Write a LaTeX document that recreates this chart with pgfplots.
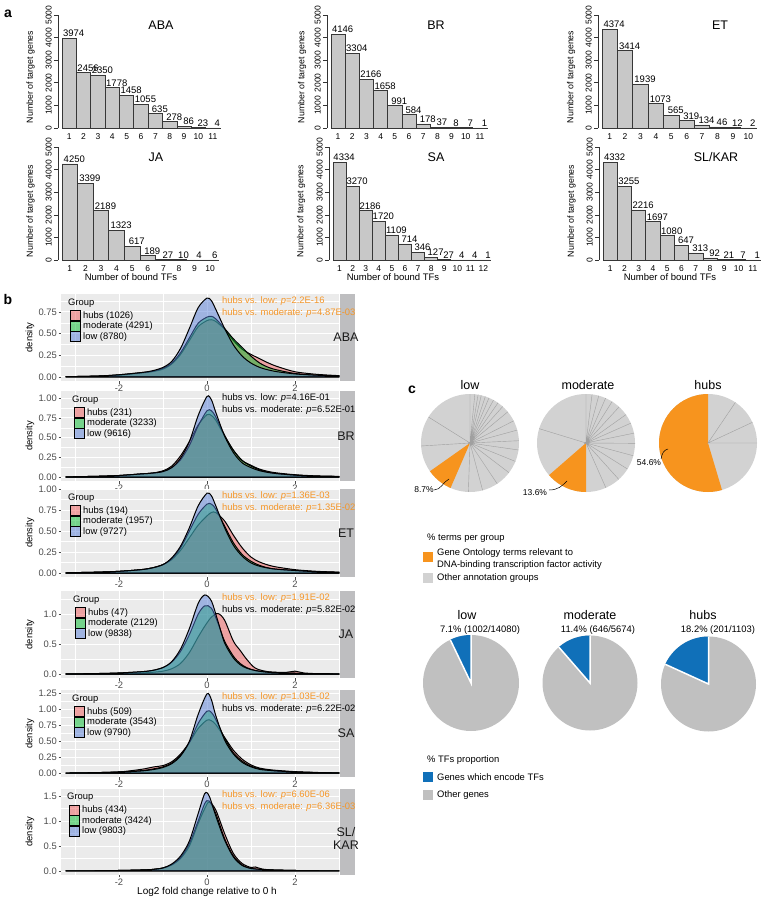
\documentclass[border=0pt]{standalone}
\usepackage{fontspec}
\setmainfont{Liberation Sans}
\usepackage{pgfplots}
\pgfplotsset{compat=1.18}
\usepackage{pgfplotstable}

\newcommand{\fs}[1]{\fontsize{#1}{#1}\selectfont}

\definecolor{barfill}{RGB}{200,200,200}
\definecolor{bardraw}{RGB}{55,55,55}
\definecolor{panelbg}{RGB}{235,235,235}
\definecolor{stripbg}{RGB}{190,190,192}
\definecolor{hubc}{RGB}{238,88,88}
\definecolor{modc}{RGB}{0,188,45}
\definecolor{lowc}{RGB}{85,125,215}
\definecolor{porange}{RGB}{245,150,40}
\definecolor{pieorange}{RGB}{247,148,30}
\definecolor{piegray}{RGB}{210,210,210}
\definecolor{pieline}{RGB}{160,160,160}
\definecolor{piegray2}{RGB}{192,192,192}
\definecolor{pieblue}{RGB}{16,112,185}
\definecolor{ticklab}{RGB}{77,77,77}

\pgfplotsset{
 every axis/.append style={/pgf/number format/assume math mode=true, /pgf/number format/1000 sep={}},
 barax/.style={
   scale only axis, anchor=north west, height=113pt, enlargelimits=false,
   ymin=0, ymax=5000, ytick={0,1000,2000,3000,4000,5000},
   axis x line*=bottom, axis y line*=left, axis y line shift=4pt,
   axis line style={line width=0.6pt, color=black!80},
   xtick style={draw=none}, ytick style={line width=0.6pt, color=black!80},
   tick align=outside, major tick length=4pt,
   xticklabel style={font=\fs{8.5}, inner sep=1.5pt},
   yticklabel style={font=\fs{8.5}, rotate=90, anchor=south, inner sep=2pt},
   clip=false,
 },
 bars/.style={ybar, bar width=1, fill=barfill, draw=bardraw, line width=0.7pt,
   nodes near coords, every node near coord/.append style={font=\fs{9.5}, inner sep=1pt, xshift=4.5pt, text=black}},
 densax/.style={
   scale only axis, anchor=north west, width=279pt, xmin=-3.318, xmax=3.023,
   axis background/.style={fill=panelbg},
   axis line style={draw=none},
   xtick={-2,0,2}, xticklabels={-2,0,2}, minor xtick={-3,-1,1,3},
   grid=both, major grid style={white, line width=0.9pt}, minor grid style={white, line width=0.45pt},
   tick pos=left, tick align=outside, major tick length=2.5pt, minor tick length=0pt,
   tick style={color=black!70, line width=0.5pt},
   tick label style={font=\fs{9.4}, text=ticklab},
   xticklabel style={inner sep=1.5pt}, yticklabel style={inner sep=1.5pt},
 },
 dh/.style={fill=hubc, fill opacity=0.5, draw=black, line width=1pt, smooth},
 dm/.style={fill=modc, fill opacity=0.5, draw=black, line width=1pt, smooth},
 dl/.style={fill=lowc, fill opacity=0.5, draw=black, line width=1pt, smooth},
 pieax/.style={scale only axis, hide axis, anchor=center, width=98pt, height=98pt,
   xmin=-1, xmax=1, ymin=-1, ymax=1, clip=false},
}

\pgfplotstableread{
x h m l
-3.2 0.003 0.003 0.003
-2.5 0.01 0.01 0.01
-2.0 0.02 0.025 0.025
-1.5 0.045 0.05 0.05
-1.25 0.06 0.065 0.07
-1.0 0.09 0.10 0.11
-0.8 0.15 0.16 0.18
-0.6 0.26 0.28 0.33
-0.4 0.42 0.45 0.56
-0.2 0.58 0.62 0.80
0.0 0.65 0.69 0.91
0.1 0.66 0.70 0.88
0.2 0.64 0.67 0.78
0.4 0.55 0.56 0.56
0.6 0.42 0.44 0.37
0.8 0.32 0.34 0.24
1.0 0.26 0.24 0.16
1.2 0.21 0.16 0.11
1.4 0.16 0.11 0.08
1.6 0.12 0.08 0.06
2.0 0.06 0.04 0.035
2.5 0.03 0.02 0.02
3.0 0.015 0.012 0.012
}\dABA
\pgfplotstableread{
x h m l
-3.2 0.003 0.003 0.003
-2.5 0.01 0.01 0.01
-2.0 0.02 0.02 0.02
-1.5 0.04 0.04 0.04
-1.25 0.05 0.05 0.05
-1.0 0.08 0.07 0.07
-0.8 0.14 0.12 0.12
-0.6 0.27 0.22 0.24
-0.4 0.45 0.40 0.45
-0.2 0.66 0.65 0.78
0.0 0.79 0.84 1.02
0.1 0.78 0.84 0.98
0.2 0.72 0.76 0.82
0.4 0.52 0.53 0.52
0.6 0.34 0.34 0.31
0.8 0.21 0.21 0.18
1.0 0.15 0.14 0.12
1.2 0.10 0.09 0.08
1.5 0.06 0.05 0.05
2.0 0.03 0.025 0.025
2.5 0.015 0.012 0.012
3.0 0.01 0.006 0.006
}\dBR
\pgfplotstableread{
x h m l
-3.2 0.003 0.003 0.003
-2.5 0.01 0.01 0.01
-2.0 0.02 0.02 0.02
-1.5 0.04 0.04 0.04
-1.25 0.06 0.06 0.06
-1.0 0.10 0.10 0.10
-0.8 0.16 0.17 0.18
-0.6 0.27 0.30 0.32
-0.4 0.42 0.50 0.54
-0.2 0.57 0.70 0.80
0.0 0.68 0.82 0.95
0.1 0.72 0.82 0.92
0.2 0.72 0.76 0.80
0.4 0.62 0.56 0.54
0.6 0.45 0.36 0.33
0.8 0.30 0.22 0.20
1.0 0.19 0.14 0.12
1.2 0.13 0.09 0.08
1.5 0.08 0.05 0.05
2.0 0.04 0.03 0.03
2.5 0.02 0.015 0.015
3.0 0.01 0.008 0.008
}\dET
\pgfplotstableread{
x h m l
-3.2 0.003 0.003 0.003
-2.5 0.005 0.01 0.01
-2.0 0.01 0.02 0.02
-1.5 0.02 0.04 0.04
-1.25 0.03 0.06 0.06
-1.0 0.05 0.11 0.11
-0.8 0.09 0.20 0.21
-0.6 0.18 0.38 0.42
-0.4 0.36 0.66 0.76
-0.2 0.62 1.00 1.18
-0.05 0.80 1.14 1.32
0.1 0.95 1.10 1.22
0.25 1.01 0.85 0.88
0.4 0.90 0.55 0.52
0.6 0.55 0.30 0.27
0.75 0.40 0.18 0.16
0.9 0.25 0.11 0.10
1.1 0.10 0.06 0.06
1.4 0.04 0.035 0.03
1.8 0.03 0.02 0.02
2.0 0.05 0.015 0.015
2.2 0.02 0.01 0.01
2.6 0.005 0.008 0.008
3.0 0.002 0.005 0.005
}\dJA
\pgfplotstableread{
x h m l
-3.2 0.003 0.003 0.003
-2.5 0.01 0.01 0.01
-2.0 0.02 0.02 0.02
-1.5 0.06 0.04 0.035
-1.2 0.10 0.07 0.06
-1.0 0.12 0.10 0.09
-0.8 0.18 0.16 0.15
-0.6 0.30 0.28 0.27
-0.4 0.48 0.48 0.50
-0.2 0.70 0.78 0.92
0.0 0.83 0.97 1.24
0.1 0.82 0.95 1.15
0.2 0.76 0.84 0.90
0.4 0.56 0.55 0.52
0.6 0.36 0.32 0.30
0.8 0.22 0.19 0.17
1.0 0.13 0.11 0.10
1.2 0.08 0.07 0.06
1.5 0.05 0.04 0.04
2.0 0.025 0.02 0.02
2.5 0.012 0.01 0.01
3.0 0.006 0.005 0.005
}\dSA
\pgfplotstableread{
x h m l
-3.2 0.002 0.002 0.002
-2.5 0.005 0.005 0.005
-2.0 0.01 0.01 0.01
-1.5 0.02 0.02 0.02
-1.25 0.03 0.03 0.03
-1.0 0.06 0.06 0.06
-0.8 0.12 0.13 0.14
-0.6 0.25 0.27 0.30
-0.4 0.50 0.55 0.60
-0.2 0.95 1.00 1.15
-0.05 1.25 1.35 1.55
0.05 1.38 1.40 1.50
0.2 1.22 1.15 1.10
0.4 0.75 0.65 0.62
0.6 0.35 0.30 0.28
0.8 0.15 0.12 0.11
1.0 0.07 0.05 0.05
1.1 0.08 0.04 0.04
1.25 0.04 0.03 0.03
1.5 0.02 0.02 0.02
2.0 0.01 0.01 0.01
2.5 0.005 0.005 0.005
3.0 0.002 0.003 0.003
}\dSL

\pgfplotstableread{
a r
0 1
5 1
10 1
15 1
20 1
25 1
30 1
35 1
40 1
45 1
50 1
55 1
60 1
65 1
70 1
75 1
80 1
85 1
90 1
95 1
100 1
105 1
110 1
115 1
120 1
125 1
130 1
135 1
140 1
145 1
150 1
155 1
160 1
165 1
170 1
175 1
180 1
185 1
190 1
195 1
200 1
205 1
210 1
215 1
220 1
225 1
230 1
235 1
240 1
245 1
250 1
255 1
260 1
265 1
270 1
275 1
280 1
285 1
290 1
295 1
300 1
305 1
310 1
315 1
320 1
325 1
330 1
335 1
340 1
345 1
350 1
355 1
360 1
}\circletab

\newcommand{\densleg}[5]{%
 \node[anchor=west, font=\fs{9.4}, inner sep=0pt] at ({#1pt-1pt},{-(#2pt+8.7pt)}) {Group};
 \draw[line width=1pt, fill=hubc, fill opacity=0.5] ({#1pt+1pt},{-(#2pt+16.7pt)}) rectangle ++(10pt,-10pt);
 \draw[line width=1pt, fill=modc, fill opacity=0.5] ({#1pt+1pt},{-(#2pt+27.2pt)}) rectangle ++(10pt,-10pt);
 \draw[line width=1pt, fill=lowc, fill opacity=0.5] ({#1pt+1pt},{-(#2pt+37.7pt)}) rectangle ++(10pt,-10pt);
 \node[anchor=west, font=\fs{9.4}, inner sep=0pt] at ({#1pt+14pt},{-(#2pt+21.7pt)}) {#3};
 \node[anchor=west, font=\fs{9.4}, inner sep=0pt] at ({#1pt+14pt},{-(#2pt+32.2pt)}) {#4};
 \node[anchor=west, font=\fs{9.4}, inner sep=0pt] at ({#1pt+14pt},{-(#2pt+42.7pt)}) {#5};
}
\newcommand{\pval}[5]{%
 \node[anchor=west, text=#2, font=\fs{9.4}, inner sep=0pt] at (222pt,{-(#1pt+7pt)}) {hubs vs. low: \textit{p}=#3};
 \node[anchor=west, text=#4, font=\fs{9.4}, inner sep=0pt] at (222pt,{-(#1pt+19pt)}) {hubs vs. moderate: \textit{p}=#5};
}
\newcommand{\strip}[4]{%
 \fill[stripbg] (340pt,{-#1pt}) rectangle (355pt,{-#2pt});
 \node[font=\fs{12.5}, align=center, inner sep=0pt, text=black!90] at (346pt,{-(#1pt+#2pt)/2-#4pt}) {#3};
 \node[rotate=90, font=\fs{9.4}] at (30pt,{-(#1pt+#2pt)/2}) {density};
}

\begin{document}
\begin{tikzpicture}
\path[use as bounding box] (0pt,0pt) rectangle (762pt,-899pt);

% ---------------- panel a ----------------
\node[font=\bfseries\fs{14}] at (8pt,-14pt) {a};
\begin{axis}[barax, at={(62pt,-15pt)}, width=158pt, xmin=0.5, xmax=11.5, xtick={1,...,11}]
\addplot[bars] coordinates {(1,3974)(2,2456)(3,2350)(4,1778)(5,1458)(6,1055)(7,635)(8,278)(9,86)(10,23)(11,4)};
\end{axis}
\begin{axis}[barax, at={(331pt,-15pt)}, width=156pt, xmin=0.5, xmax=11.5, xtick={1,...,11}]
\addplot[bars] coordinates {(1,4146)(2,3304)(3,2166)(4,1658)(5,991)(6,584)(7,178)(8,37)(9,8)(10,7)(11,1)};
\end{axis}
\begin{axis}[barax, at={(602pt,-15pt)}, width=154pt, xmin=0.5, xmax=10.5, xtick={1,...,10}]
\addplot[bars] coordinates {(1,4374)(2,3414)(3,1939)(4,1073)(5,565)(6,319)(7,134)(8,46)(9,12)(10,2)};
\end{axis}
\begin{axis}[barax, at={(62pt,-147pt)}, width=156pt, xmin=0.5, xmax=10.5, xtick={1,...,10}]
\addplot[bars] coordinates {(1,4250)(2,3399)(3,2189)(4,1323)(5,617)(6,189)(7,27)(8,10)(9,4)(10,6)};
\end{axis}
\begin{axis}[barax, at={(333pt,-147pt)}, width=157pt, xmin=0.5, xmax=12.5, xtick={1,...,12}]
\addplot[bars] coordinates {(1,4334)(2,3270)(3,2186)(4,1720)(5,1109)(6,714)(7,346)(8,127)(9,27)(10,4)(11,4)(12,1)};
\end{axis}
\begin{axis}[barax, at={(603pt,-147pt)}, width=157pt, xmin=0.5, xmax=11.5, xtick={1,...,11}]
\addplot[bars] coordinates {(1,4332)(2,3255)(3,2216)(4,1697)(5,1080)(6,647)(7,313)(8,92)(9,21)(10,7)(11,1)};
\end{axis}
\foreach \x/\y/\t in {161/25/ABA, 436/25/BR, 720/25/ET, 156/157/JA, 436/157/SA, 716/157/SL\slash KAR}
  \node[font=\fs{12.5}] at (\x pt,-\y pt) {\t};
\foreach \x/\y in {30.5/77, 302/77, 571/77, 30.5/211, 301/211, 571.5/211}
  \node[rotate=90, font=\fs{8.8}] at (\x pt,-\y pt) {Number of target genes};
\foreach \x in {131, 393, 670}
  \node[font=\fs{9.5}] at (\x pt,-277pt) {Number of bound TFs};

% ---------------- panel b ----------------
\node[font=\bfseries\fs{14}] at (8pt,-299pt) {b};
\begin{axis}[densax, at={(61pt,-294pt)}, height=87.1pt, ymin=-0.048, ymax=0.957,
  ytick={0,0.25,0.5,0.75}, minor ytick={0.125,0.375,0.625,0.875},
  yticklabel style={/pgf/number format/.cd, fixed, fixed zerofill, precision=2}]
\addplot[dh] table[x=x,y=h]{\dABA} \closedcycle;
\addplot[dm] table[x=x,y=m]{\dABA} \closedcycle;
\addplot[dl] table[x=x,y=l]{\dABA} \closedcycle;
\end{axis}
\begin{axis}[densax, at={(61pt,-391pt)}, height=90.2pt, ymin=-0.052, ymax=1.09,
  ytick={0,0.25,0.5,0.75,1}, minor ytick={0.125,0.375,0.625,0.875},
  yticklabel style={/pgf/number format/.cd, fixed, fixed zerofill, precision=2}]
\addplot[dh] table[x=x,y=h]{\dBR} \closedcycle;
\addplot[dm] table[x=x,y=m]{\dBR} \closedcycle;
\addplot[dl] table[x=x,y=l]{\dBR} \closedcycle;
\end{axis}
\begin{axis}[densax, at={(61pt,-489pt)}, height=88pt, ymin=-0.0475, ymax=1.0,
  ytick={0,0.25,0.5,0.75,1}, minor ytick={0.125,0.375,0.625,0.875},
  yticklabel style={/pgf/number format/.cd, fixed, fixed zerofill, precision=2}]
\addplot[dh] table[x=x,y=h]{\dET} \closedcycle;
\addplot[dm] table[x=x,y=m]{\dET} \closedcycle;
\addplot[dl] table[x=x,y=l]{\dET} \closedcycle;
\end{axis}
\begin{axis}[densax, at={(61pt,-591pt)}, height=87.1pt, ymin=-0.066, ymax=1.386,
  ytick={0,0.5,1}, minor ytick={0.25,0.75,1.25},
  yticklabel style={/pgf/number format/.cd, fixed, fixed zerofill, precision=1}]
\addplot[dh] table[x=x,y=h]{\dJA} \closedcycle;
\addplot[dm] table[x=x,y=m]{\dJA} \closedcycle;
\addplot[dl] table[x=x,y=l]{\dJA} \closedcycle;
\end{axis}
\begin{axis}[densax, at={(61pt,-690pt)}, height=87.2pt, ymin=-0.062, ymax=1.30,
  ytick={0,0.25,0.5,0.75,1,1.25}, minor ytick={0.125,0.375,0.625,0.875,1.125},
  yticklabel style={/pgf/number format/.cd, fixed, fixed zerofill, precision=2}]
\addplot[dh] table[x=x,y=h]{\dSA} \closedcycle;
\addplot[dm] table[x=x,y=m]{\dSA} \closedcycle;
\addplot[dl] table[x=x,y=l]{\dSA} \closedcycle;
\end{axis}
\begin{axis}[densax, at={(61pt,-788.5pt)}, height=86.4pt, ymin=-0.0785, ymax=1.65,
  ytick={0,0.5,1,1.5}, minor ytick={0.25,0.75,1.25},
  yticklabel style={/pgf/number format/.cd, fixed, fixed zerofill, precision=1}]
\addplot[dh] table[x=x,y=h]{\dSL} \closedcycle;
\addplot[dm] table[x=x,y=m]{\dSL} \closedcycle;
\addplot[dl] table[x=x,y=l]{\dSL} \closedcycle;
\end{axis}

\strip{294}{381.1}{ABA}{0}
\strip{391}{481.2}{BR}{0}
\strip{489}{577}{ET}{0}
\strip{591}{678.1}{JA}{0}
\strip{690}{777.2}{SA}{0}
\strip{788.5}{874.9}{SL/\\KAR}{7}

\densleg{69}{294}{hubs (1026)}{moderate (4291)}{low (8780)}
\densleg{73}{391}{hubs (231)}{moderate (3233)}{low (9616)}
\densleg{69}{489}{hubs (194)}{moderate (1957)}{low (9727)}
\densleg{74}{591}{hubs (47)}{moderate (2129)}{low (9838)}
\densleg{73}{690}{hubs (509)}{moderate (3543)}{low (9790)}
\densleg{68}{788.5}{hubs (434)}{moderate (3424)}{low (9803)}

\pval{294}{porange}{2.2E-16}{porange}{4.87E-03}
\pval{391}{black}{4.16E-01}{black}{6.52E-01}
\pval{489}{porange}{1.36E-03}{porange}{1.35E-02}
\pval{591}{porange}{1.91E-02}{black}{5.82E-02}
\pval{690}{porange}{1.03E-02}{black}{6.22E-02}
\pval{788.5}{porange}{6.60E-06}{porange}{6.36E-03}

\node[font=\fs{10}] at (207pt,-892pt) {Log2 fold change relative to 0 h};

% ---------------- panel c ----------------
\node[font=\bfseries\fs{14}] at (412pt,-390pt) {c};
\node[font=\fs{12.5}] at (470pt,-385pt) {low};
\node[font=\fs{12.5}] at (588pt,-385pt) {moderate};
\node[font=\fs{12.5}] at (708pt,-385pt) {hubs};

\begin{axis}[pieax, at={(470pt,-443pt)}]
\addplot[data cs=polar, fill=piegray, draw=none] table[x=a,y=r]{\circletab};
\addplot[data cs=polar, fill=pieorange, draw=none] coordinates {(0,0)(215.2,1)(220,1)(225,1)(230,1)(235,1)(240,1)(245,1)(246.6,1)};
\addplot[data cs=polar, draw=pieline, line width=0.4pt] coordinates {(0,0)(90,1)(0,0)(84.3,1)(0,0)(80.5,1)(0,0)(76.7,1)(0,0)(71.8,1)(0,0)(67.2,1)(0,0)(61.3,1)(0,0)(55.1,1)(0,0)(48.1,1)(0,0)(39.5,1)(0,0)(26.9,1)(0,0)(15.3,1)(0,0)(2.7,1)(0,0)(-8.2,1)(0,0)(-22.1,1)(0,0)(-37.3,1)(0,0)(-56.3,1)(0,0)(-75.1,1)(0,0)(268.1,1)(0,0)(183.5,1)(0,0)(148,1)};
\end{axis}
\begin{axis}[pieax, at={(586pt,-443pt)}]
\addplot[data cs=polar, fill=piegray, draw=none] table[x=a,y=r]{\circletab};
\addplot[data cs=polar, fill=pieorange, draw=none] coordinates {(0,0)(221,1)(225,1)(230,1)(235,1)(240,1)(245,1)(250,1)(255,1)(260,1)(265,1)(270,1)};
\addplot[data cs=polar, draw=pieline, line width=0.4pt] coordinates {(0,0)(90,1)(0,0)(82.9,1)(0,0)(74.9,1)(0,0)(66.4,1)(0,0)(57.8,1)(0,0)(47.5,1)(0,0)(35.4,1)(0,0)(23.9,1)(0,0)(11.6,1)(0,0)(-0.4,1)(0,0)(-15.1,1)(0,0)(-32.1,1)(0,0)(-48,1)(0,0)(-66.1,1)(0,0)(163,1)};
\end{axis}
\begin{axis}[pieax, at={(708pt,-443pt)}]
\addplot[data cs=polar, fill=piegray, draw=none] table[x=a,y=r]{\circletab};
\addplot[data cs=polar, fill=pieorange, draw=none] coordinates {(0,0)(90,1)(95,1)(100,1)(105,1)(110,1)(115,1)(120,1)(125,1)(130,1)(135,1)(140,1)(145,1)(150,1)(155,1)(160,1)(165,1)(170,1)(175,1)(180,1)(185,1)(190,1)(195,1)(200,1)(205,1)(210,1)(215,1)(220,1)(225,1)(230,1)(235,1)(240,1)(245,1)(250,1)(255,1)(260,1)(265,1)(270,1)(275,1)(280,1)(285,1)(286.6,1)};
\addplot[data cs=polar, draw=pieline, line width=0.4pt] coordinates {(0,0)(56,1)(0,0)(25,1)(0,0)(0,1)};
\end{axis}
\node[font=\fs{8.5}] at (424pt,-490pt) {8.7\%};
\draw[line width=0.5pt] (434pt,-490pt) .. controls (441pt,-490pt) and (443pt,-482pt) .. (449pt,-479pt);
\node[font=\fs{8.5}] at (535pt,-493pt) {13.6\%};
\draw[line width=0.5pt] (549pt,-490pt) .. controls (558pt,-490pt) and (562pt,-486pt) .. (567pt,-481pt);
\node[font=\fs{8.5}] at (649pt,-463pt) {54.6\%};
\draw[line width=0.5pt] (661pt,-459pt) .. controls (662pt,-453pt) and (664pt,-450pt) .. (668pt,-449pt);

\node[anchor=west, font=\fs{9.4}, inner sep=0pt] at (427pt,-538pt) {\% terms per group};
\fill[pieorange] (423pt,-552pt) rectangle (432.5pt,-561.5pt);
\node[anchor=west, font=\fs{9.4}, inner sep=0pt] at (437pt,-553pt) {Gene Ontology terms relevant to};
\node[anchor=west, font=\fs{9.4}, inner sep=0pt] at (437pt,-565pt) {DNA-binding transcription factor activity};
\fill[piegray] (423pt,-573pt) rectangle (432.5pt,-582.5pt);
\node[anchor=west, font=\fs{9.4}, inner sep=0pt] at (437pt,-578pt) {Other annotation groups};

\node[font=\fs{12.5}] at (467pt,-615pt) {low};
\node[font=\fs{12.5}] at (590pt,-615pt) {moderate};
\node[font=\fs{12.5}] at (703pt,-615pt) {hubs};
\node[font=\fs{9.4}] at (480pt,-630pt) {7.1\% (1002/14080)};
\node[font=\fs{9.4}] at (598pt,-630pt) {11.4\% (646/5674)};
\node[font=\fs{9.4}] at (718pt,-630pt) {18.2\% (201/1103)};

\begin{axis}[pieax, at={(471pt,-683pt)}, width=96pt, height=96pt]
\addplot[data cs=polar, fill=piegray2, draw=none] table[x=a,y=r]{\circletab};
\addplot[data cs=polar, fill=pieblue, draw=none] coordinates {(0,0)(90,1)(95,1)(100,1)(105,1)(110,1)(115,1)(115.6,1)};
\addplot[data cs=polar, draw=white, line width=1.5pt] coordinates {(90,1)(0,0)(115.6,1)};
\end{axis}
\begin{axis}[pieax, at={(590pt,-683pt)}, width=95pt, height=95pt]
\addplot[data cs=polar, fill=piegray2, draw=none] table[x=a,y=r]{\circletab};
\addplot[data cs=polar, fill=pieblue, draw=none] coordinates {(0,0)(90,1)(95,1)(100,1)(105,1)(110,1)(115,1)(120,1)(125,1)(130,1)(131,1)};
\addplot[data cs=polar, draw=white, line width=1.5pt] coordinates {(90,1)(0,0)(131,1)};
\end{axis}
\begin{axis}[pieax, at={(708.5pt,-684pt)}, width=95pt, height=95pt]
\addplot[data cs=polar, fill=piegray2, draw=none] table[x=a,y=r]{\circletab};
\addplot[data cs=polar, fill=pieblue, draw=none] coordinates {(0,0)(90,1)(95,1)(100,1)(105,1)(110,1)(115,1)(120,1)(125,1)(130,1)(135,1)(140,1)(145,1)(150,1)(155,1)(155.5,1)};
\addplot[data cs=polar, draw=white, line width=1.5pt] coordinates {(90,1)(0,0)(155.5,1)};
\end{axis}

\node[anchor=west, font=\fs{9.4}, inner sep=0pt] at (427pt,-760pt) {\% TFs proportion};
\fill[pieblue] (423pt,-772pt) rectangle (432.5pt,-781.5pt);
\node[anchor=west, font=\fs{9.4}, inner sep=0pt] at (437pt,-777pt) {Genes which encode TFs};
\fill[piegray2] (423pt,-790pt) rectangle (432.5pt,-799.5pt);
\node[anchor=west, font=\fs{9.4}, inner sep=0pt] at (437pt,-795pt) {Other genes};
\end{tikzpicture}
\end{document}
